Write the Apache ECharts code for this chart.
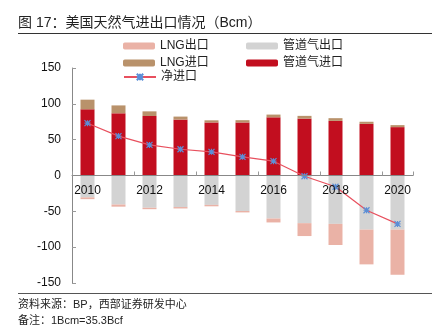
<!DOCTYPE html>
<html><head><meta charset="utf-8">
<script src="https://cdn.jsdelivr.net/npm/echarts@6/dist/echarts.min.js"></script>
<style>html,body{margin:0;padding:0;background:#fff}#c{width:445px;height:326px}</style>
</head><body><div id="c"></div>
<script>
const years = ['2010','2011','2012','2013','2014','2015','2016','2017','2018','2019','2020'];
const pipeImport = [92.3, 86.8, 83, 78, 74, 74, 81.2, 79.4, 76.2, 72, 67.5];
const lngImport = [13.5, 11, 6.5, 4.2, 3, 3.2, 3.8, 3.8, 3.8, 3, 2.8];
const pipeExport = [-30.5, -40.5, -45, -44, -41, -49.5, -60, -66.5, -67.5, -75.5, -75.5];
const lngExport = [-2.5, -3, -2, -2, -2, -2, -5.5, -18, -29.5, -48.5, -63];
const netImport = [73, 55, 42.7, 36.6, 33, 26, 20, -1, -15.7, -48.5, -67.5];

const FONT = '"Liberation Sans", Arial, "Noto Sans CJK SC", sans-serif';
const C = {red:'#C20E1F', tan:'#B9926B', gray:'#D3D3D3', pink:'#EAB2A6', line:'#E8505E', mark:'#5B8ED6'};
const star = 'path://M0,0 L10,10 M10,0 L0,10 M5,0 L5,10 M0,5 L10,5';

function lg(id, name, left, top, extra) {
  return Object.assign({
    id: id, data: [name], left: left, top: top, orient: 'horizontal',
    itemWidth: 32, itemHeight: 7, itemGap: 0,
    textStyle: {fontSize: 12, color: '#222', fontFamily: FONT},
    padding: 0, selectedMode: false
  }, extra || {});
}

const GRID_TOP = 68, GRID_H = 215, YMIN = -150, YMAX = 150;
const zeroOffset = -GRID_H * (0 - YMIN) / (YMAX - YMIN);

const chart = echarts.init(document.getElementById('c'), null, {renderer: 'canvas'});
chart.setOption({
  animation: false,
  textStyle: {fontFamily: FONT},
  graphic: [
    {type:'text', left: 18, top: 16, style:{text:'图 17：美国天然气进出口情况（Bcm）', fontSize: 14, fill:'#222', fontFamily: FONT}},
    {type:'line', shape:{x1:18, y1:33.5, x2:432, y2:33.5}, style:{stroke:'#333', lineWidth:1}},
    {type:'line', shape:{x1:18, y1:293.5, x2:432, y2:293.5}, style:{stroke:'#555', lineWidth:1}},
    {type:'text', left: 18, top: 299, style:{text:'资料来源：BP，西部证券研发中心', fontSize: 11, fill:'#222', fontFamily: FONT}},
    {type:'text', left: 18, top: 315, style:{text:'备注：1Bcm=35.3Bcf', fontSize: 11, fill:'#222', fontFamily: FONT}}
  ],
  legend: [
    lg('l1', 'LNG出口', 123, 40),
    lg('l2', '管道气出口', 246, 40),
    lg('l3', 'LNG进口', 123, 57),
    lg('l4', '管道气进口', 246, 57),
    lg('l5', '净进口', 123, 71, {itemHeight: 8})
  ],
  grid: {left: 72, right: 32, top: GRID_TOP, height: GRID_H},
  xAxis: {
    type: 'category', data: years, z: 10, position: 'bottom', offset: zeroOffset,
    axisLine: {onZero: false, lineStyle: {color: '#888', width: 1}},
    axisTick: {show: true, inside: true, length: 4, interval: 1, lineStyle: {color: '#999'}},
    axisLabel: {interval: 1, fontSize: 12, color: '#111', margin: 9, fontFamily: FONT}
  },
  yAxis: {
    type: 'value', min: YMIN, max: YMAX, interval: 50,
    splitLine: {show: false},
    axisLine: {show: true, lineStyle: {color: '#888'}},
    axisTick: {show: true, inside: true, length: 4, lineStyle: {color: '#999'}},
    axisLabel: {fontSize: 12, color: '#111', margin: 11, fontFamily: FONT}
  },
  series: [
    {name:'管道气进口', type:'bar', stack:'t', data: pipeImport, barWidth: 14, itemStyle:{color:C.red}},
    {name:'LNG进口', type:'bar', stack:'t', data: lngImport, itemStyle:{color:C.tan}},
    {name:'管道气出口', type:'bar', stack:'t', data: pipeExport, itemStyle:{color:C.gray}},
    {name:'LNG出口', type:'bar', stack:'t', data: lngExport, itemStyle:{color:C.pink}},
    {name:'净进口', type:'line', data: netImport, z: 5,
      lineStyle:{color:C.line, width:1.2}, itemStyle:{color:C.mark, borderColor:C.mark, borderWidth:1.2},
      symbol: star, symbolSize: 6}
  ]
});
</script></body></html>
